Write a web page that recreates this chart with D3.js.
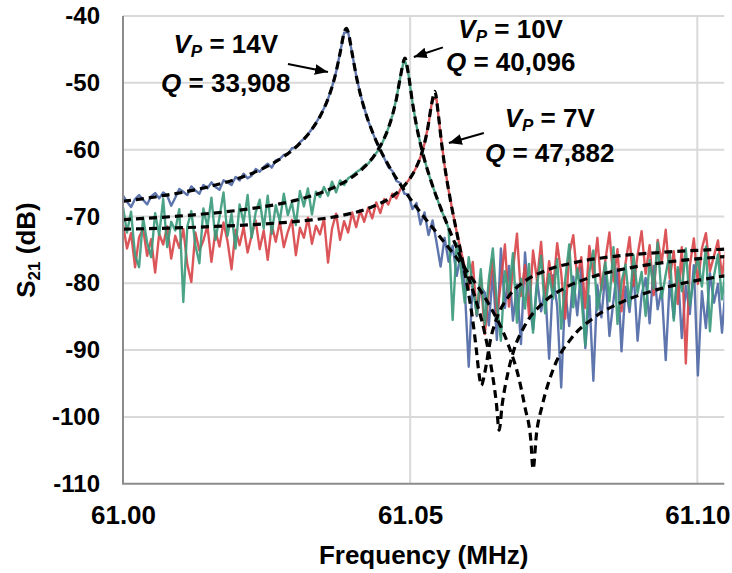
<!DOCTYPE html>
<html><head><meta charset="utf-8">
<script src="https://cdn.jsdelivr.net/npm/d3@7"></script>
<style>
html,body{margin:0;padding:0;background:#fff;}
svg{display:block;font-family:"Liberation Sans",Arial,sans-serif;font-weight:bold;}
</style></head>
<body><svg id="c" width="732" height="573"></svg>
<script>
// ---------- DATA ----------
const yTicks = [-110,-100,-90,-80,-70,-60,-50,-40];
const xTicks = [61.00,61.05,61.10];
const xTickLabels = ["61.00","61.05","61.10"];
const xTitle = "Frequency (MHz)";

// measured sweep: 151 points, 61.0000 .. 61.1050 MHz (0.0007 MHz step)
const sweepStart = 61.0, sweepStep = 0.0007;
const measured14V = [
-66.9,-67.8,-68.6,-67.4,-66.8,-67.5,-68.2,-67.0,-66.5,-67.3,
-66.4,-66.9,-68.4,-67.2,-65.9,-66.3,-66.8,-65.5,-66.1,-66.6,
-65.3,-65.8,-64.9,-65.6,-66.0,-64.6,-64.9,-65.3,-64.1,-64.6,
-63.6,-64.3,-63.9,-62.9,-63.3,-62.6,-62.1,-62.7,-61.6,-61.4,
-60.8,-60.7,-59.8,-59.7,-58.9,-58.4,-57.7,-56.9,-56.0,-55.0,
-53.8,-52.4,-50.6,-48.4,-45.5,-42.5,-42.4,-45.6,-48.9,-51.6,
-53.8,-55.7,-57.3,-58.8,-60.1,-61.3,-62.6,-63.2,-64.7,-65.0,
-66.6,-66.7,-68.9,-68.0,-71.2,-69.4,-72.8,-70.6,-73.9,-77.5,
-73.2,-76.8,-74.4,-78.9,-75.8,-80.6,-92.5,-79.6,-84.9,-80.5,
-81.4,-86.3,-78.2,-88.5,-74.8,-83.7,-77.4,-85.6,-80.2,-89.1,
-75.4,-82.8,-86.9,-79.5,-84.2,-80.7,-91.3,-78.8,-83.5,-95.6,
-81.2,-86.4,-79.0,-84.8,-77.6,-89.7,-81.9,-94.6,-80.3,-85.1,
-78.4,-87.9,-82.6,-77.8,-90.2,-80.5,-84.3,-78.1,-88.6,-81.7,
-79.2,-86.0,-77.4,-83.9,-80.8,-91.5,-79.6,-85.2,-78.0,-88.2,
-80.4,-84.6,-77.3,-93.8,-81.2,-86.7,-78.5,-82.9,-80.1,-87.4,
-79.8];
const measured10V = [
-68.6,-72.4,-69.3,-75.8,-77.6,-70.2,-73.9,-76.1,-69.5,-72.8,
-67.4,-74.6,-70.8,-72.1,-68.9,-82.8,-71.5,-69.2,-74.3,-77.0,
-68.8,-71.6,-67.2,-73.5,-70.1,-66.4,-72.9,-69.6,-74.8,-68.2,
-70.9,-66.8,-73.2,-69.4,-67.5,-71.8,-66.9,-72.6,-68.3,-70.7,
-66.6,-69.8,-67.9,-71.3,-66.2,-68.5,-65.8,-69.7,-66.3,-67.1,
-65.6,-66.9,-64.8,-66.4,-64.6,-65.3,-64.3,-63.9,-63.4,-63.0,
-62.4,-62.1,-61.3,-60.5,-59.7,-58.3,-56.8,-54.9,-52.4,-49.1,
-46.3,-48.7,-52.9,-56.4,-59.2,-61.5,-63.6,-65.4,-67.1,-68.8,
-70.2,-71.8,-85.5,-74.0,-77.6,-82.9,-76.1,-80.4,-84.7,-77.9,
-86.2,-79.4,-74.8,-83.1,-88.6,-78.2,-81.7,-75.5,-85.9,-79.3,
-83.8,-77.1,-87.4,-80.2,-75.9,-84.5,-78.6,-82.3,-76.4,-86.8,
-79.5,-74.2,-83.6,-77.8,-81.9,-89.3,-78.4,-75.1,-84.0,-80.6,
-76.9,-82.7,-74.6,-86.1,-79.8,-77.2,-83.4,-75.8,-81.5,-78.3,
-84.9,-76.5,-80.8,-73.9,-82.2,-78.7,-75.4,-85.6,-77.6,-81.2,
-74.8,-83.3,-79.1,-76.2,-80.5,-74.5,-87.2,-78.9,-75.7,-82.4,
-77.3];
const measured7V = [
-71.2,-74.8,-72.5,-77.6,-73.1,-71.8,-75.9,-73.4,-78.4,-72.6,
-74.2,-71.5,-76.3,-72.9,-74.7,-71.9,-77.2,-79.8,-72.4,-75.1,
-73.6,-71.4,-76.8,-72.2,-74.5,-70.9,-73.7,-77.9,-72.0,-74.3,
-71.6,-75.4,-72.8,-70.6,-74.9,-72.1,-76.5,-71.3,-73.8,-70.8,
-74.6,-72.3,-70.5,-75.8,-71.7,-73.2,-70.2,-74.1,-71.4,-72.7,
-70.3,-76.9,-71.8,-69.6,-73.5,-70.7,-72.4,-69.4,-71.6,-69.1,
-70.8,-68.7,-70.3,-67.9,-69.5,-67.4,-68.2,-66.6,-67.3,-65.9,
-65.4,-64.6,-63.7,-62.6,-61.1,-59.1,-56.2,-52.3,-52.5,-57.8,
-62.4,-66.1,-69.3,-72.3,-75.0,-77.6,-80.9,-76.8,-84.7,-79.2,
-87.6,-81.3,-76.4,-85.0,-79.8,-74.2,-83.5,-78.0,-72.6,-81.9,
-77.3,-84.8,-75.1,-79.6,-73.8,-82.4,-76.7,-80.9,-74.0,-78.5,
-85.3,-75.6,-72.8,-79.2,-76.1,-83.7,-74.4,-78.8,-73.2,-81.0,
-76.5,-72.4,-79.7,-74.9,-84.2,-77.0,-73.1,-80.4,-75.8,-72.2,
-78.6,-74.3,-81.8,-73.5,-76.9,-72.0,-79.3,-75.2,-83.1,-74.6,
-92.0,-77.4,-73.3,-80.1,-74.8,-72.5,-78.2,-75.9,-73.6,-79.0,
-74.7];

// fitted curves (dashed)
const fit14Freq = [61.000,61.005,61.010,61.015,61.020,61.025,61.028,61.031,61.033,61.0343,61.035,61.0357,61.0364,61.0371,61.0378,61.0385,61.0389,61.0392,61.0399,61.0406,61.0413,61.0420,61.0434,61.0448,61.0462,61.049,61.052,61.055,61.058,61.061,61.064,61.067,61.069,61.070,61.071,61.0714,61.072,61.073,61.075,61.078,61.082,61.087,61.093,61.099,61.105];
const fit14Val = [-67.73,-67.16,-66.45,-65.54,-64.32,-62.55,-61.03,-58.88,-56.83,-55.03,-53.83,-52.38,-50.61,-48.37,-45.53,-42.52,-41.85,-42.39,-45.61,-48.91,-51.60,-53.81,-57.29,-60.03,-62.30,-66.12,-69.62,-72.85,-76.09,-79.54,-83.58,-89.0,-94.46,-98.6,-103.4,-107.8,-102.5,-98.3,-92.67,-88.33,-85.15,-82.76,-80.95,-79.74,-78.86];
const fit10Freq = [61.000,61.006,61.012,61.018,61.024,61.030,61.035,61.039,61.042,61.044,61.0462,61.0469,61.0476,61.0483,61.0491,61.0497,61.0504,61.0511,61.0518,61.0525,61.0539,61.0553,61.057,61.059,61.061,61.063,61.064,61.065,61.0655,61.066,61.067,61.068,61.070,61.073,61.077,61.082,61.088,61.095,61.105];
const fit10Val = [-70.47,-70.17,-69.79,-69.29,-68.61,-67.60,-66.28,-64.61,-62.62,-60.57,-56.79,-54.91,-52.42,-49.11,-46.29,-48.71,-52.94,-56.40,-59.19,-61.52,-65.40,-68.69,-72.35,-76.6,-81.32,-87.52,-91.95,-97.84,-102.0,-98.34,-93.51,-90.17,-86.29,-83.04,-80.67,-78.97,-77.73,-76.81,-75.99];
const fit7Freq = [61.000,61.008,61.016,61.024,61.032,61.038,61.043,61.047,61.049,61.051,61.052,61.053,61.0537,61.0543,61.0549,61.0555,61.056,61.057,61.058,61.059,61.060,61.061,61.0615,61.062,61.0624,61.063,61.064,61.065,61.067,61.070,61.074,61.079,61.085,61.092,61.098,61.105];
const fit7Val = [-71.9,-71.75,-71.5,-71.15,-70.6,-69.87,-68.69,-66.92,-65.37,-62.76,-60.58,-57.11,-53.40,-51.27,-54.69,-59.23,-62.39,-67.53,-71.91,-76.12,-80.66,-86.2,-89.74,-93.63,-95.3,-93.33,-88.39,-85.41,-82.16,-79.67,-77.97,-76.83,-76.03,-75.48,-75.16,-74.89];

const seriesColors = {v14:"#5069a6", v10:"#3d9b7d", v7:"#d8474b"};

// annotations (data coordinates)
const annoText = [
  {vp:"14", q:"33,908", f:61.0179, y1:-45.54, y2:-51.38},
  {vp:"10", q:"40,096", f:61.0675, y1:-43.29, y2:-48.23},
  {vp:"7",  q:"47,882", f:61.0743, y1:-56.62, y2:-61.86}
];
const annoArrows = [
  {f1:61.02872, v1:-47.19, f2:61.03568, v2:-48.39},
  {f1:61.05570, v1:-44.70, f2:61.05064, v2:-46.14},
  {f1:61.06283, v1:-57.51, f2:61.05674, v2:-59.01}
];

// ---------- DRAW ----------
const svg = d3.select("#c");
svg.append("rect").attr("width",732).attr("height",573).attr("fill","#fff");
const L=123, R=724.3, T=16, B=483.7;
const x = d3.scaleLinear().domain([61.0,61.1047]).range([L,R]);
const y = d3.scaleLinear().domain([-110,-40]).range([B,T]);

// grid
svg.append("g").selectAll("line").data(yTicks.filter(d=>d>-110)).join("line")
  .attr("x1",L).attr("x2",R).attr("y1",d=>y(d)).attr("y2",d=>y(d))
  .attr("stroke","#d9d9d9").attr("stroke-width",2);
svg.append("g").selectAll("line").data(xTicks.filter(d=>d>61.0)).join("line")
  .attr("x1",d=>x(d)).attr("x2",d=>x(d)).attr("y1",T).attr("y2",B)
  .attr("stroke","#d9d9d9").attr("stroke-width",2);

// axes labels via d3 axes
const ya = svg.append("g").attr("transform",`translate(${L},0)`)
  .call(d3.axisLeft(y).tickValues(yTicks).tickSize(0).tickPadding(23).tickFormat(d=>d));
ya.select(".domain").remove();
ya.selectAll("text").attr("font-size",24).attr("font-weight","bold").attr("fill","#000")
  .attr("font-family","'Liberation Sans',Arial,sans-serif");
const xa = svg.append("g").attr("transform",`translate(0,${B})`)
  .call(d3.axisBottom(x).tickValues(xTicks).tickSize(0).tickPadding(22).tickFormat((d,i)=>xTickLabels[i]));
xa.select(".domain").remove();
xa.selectAll("text").attr("font-size",26).attr("font-weight","bold").attr("fill","#000")
  .attr("font-family","'Liberation Sans',Arial,sans-serif");

// axis lines
svg.append("line").attr("x1",L).attr("x2",L).attr("y1",T).attr("y2",B).attr("stroke","#8c8c8c").attr("stroke-width",2);
svg.append("line").attr("x1",L-1).attr("x2",R).attr("y1",B).attr("y2",B).attr("stroke","#8c8c8c").attr("stroke-width",2);

// clip
svg.append("clipPath").attr("id","pc").append("rect").attr("x",L+1).attr("y",0).attr("width",R-L-1).attr("height",B-1);
const plot = svg.append("g").attr("clip-path","url(#pc)");

const sweep = measured14V.map((_,i)=>+(sweepStart+i*sweepStep).toFixed(4));
const dataLine = d3.line().x((d,i)=>x(sweep[i])).y(d=>y(d));
[[measured14V,seriesColors.v14],[measured7V,seriesColors.v7],[measured10V,seriesColors.v10]].forEach(([arr,c])=>{
  plot.append("path").attr("d",dataLine(arr)).attr("fill","none").attr("stroke",c)
    .attr("stroke-width",2.4).attr("stroke-linejoin","round").attr("opacity",0.92);
});

const fitLine = d3.line().curve(d3.curveMonotoneX).x(d=>x(d[0])).y(d=>y(d[1]));
[[fit14Freq,fit14Val],[fit10Freq,fit10Val],[fit7Freq,fit7Val]].forEach(([fs,vs])=>{
  plot.append("path").attr("d",fitLine(fs.map((f,i)=>[f,vs[i]])))
    .attr("fill","none").attr("stroke","#000").attr("stroke-width",3.2)
    .attr("stroke-dasharray","8,5");
});

// axis titles
svg.append("text").attr("x",(L+R)/2).attr("y",564).attr("text-anchor","middle")
  .attr("font-size",26).text(xTitle);
const yt = svg.append("text").attr("transform","translate(35,250) rotate(-90)")
  .attr("text-anchor","middle").attr("font-size",26);
yt.append("tspan").text("S");
yt.append("tspan").attr("font-size",17).attr("dy",5).text("21");
yt.append("tspan").attr("dy",-5).text(" (dB)");

// annotations
annoText.forEach(a=>{
  const t1 = svg.append("text").attr("x",x(a.f)).attr("y",y(a.y1)).attr("text-anchor","middle").attr("font-size",26);
  t1.append("tspan").attr("font-style","italic").text("V");
  t1.append("tspan").attr("font-style","italic").attr("font-size",17).attr("dy",4).text("P");
  t1.append("tspan").attr("dy",-4).text(" = " + a.vp + "V");
  const t2 = svg.append("text").attr("x",x(a.f)).attr("y",y(a.y2)).attr("text-anchor","middle").attr("font-size",26);
  t2.append("tspan").attr("font-style","italic").text("Q");
  t2.append("tspan").text(" = " + a.q);
});
const defs = svg.append("defs");
defs.append("marker").attr("id","ah").attr("viewBox","0 0 12 10").attr("refX",12).attr("refY",5)
  .attr("markerWidth",13).attr("markerHeight",11).attr("markerUnits","userSpaceOnUse").attr("orient","auto")
  .append("path").attr("d","M0,0 L12,5 L0,10 Z").attr("fill","#000");
annoArrows.forEach(a=>{
  svg.append("line").attr("x1",x(a.f1)).attr("y1",y(a.v1)).attr("x2",x(a.f2)).attr("y2",y(a.v2))
    .attr("stroke","#000").attr("stroke-width",2).attr("marker-end","url(#ah)");
});
</script></body></html>
